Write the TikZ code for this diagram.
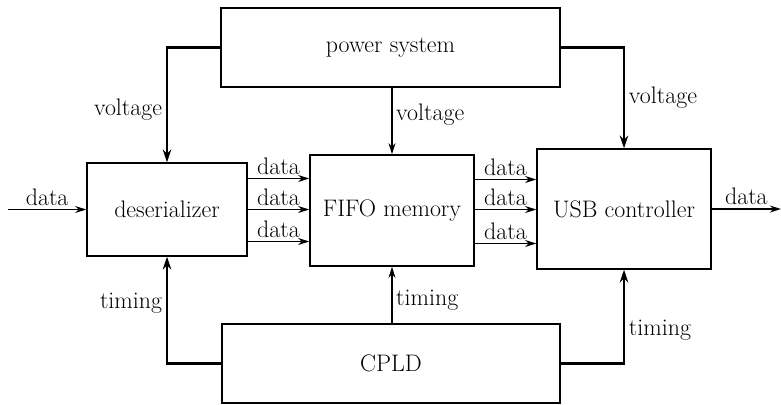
\documentclass[tikz,border=0pt]{standalone}
\usepackage{fontspec}
\usepackage{tikz}
\usetikzlibrary{positioning, arrows.meta, calc}

\begin{document}
\begin{tikzpicture}[
    x=0.025cm, y=-0.025cm,
    block/.style={draw, line width=1pt, inner sep=0pt, font=\fontsize{17}{20}\selectfont},
    lbl/.style={font=\fontsize{17}{20}\selectfont, inner sep=2.5pt},
    sig/.style={line width=1pt, -{Stealth[length=8pt, width=5pt]}},
    bus/.style={line width=2pt, -{Stealth[length=9pt, width=6pt]}}
]

\useasboundingbox (0,0) rectangle (781,404);

% --- 1. Blocks ---
\node[block, minimum width=8.475cm, minimum height=1.975cm] (power) at (390.5,47.5) {power system};
\node[block, minimum width=4cm, minimum height=2.325cm] (deser) at (167,209.5) {deserializer};
\node[block, minimum width=4.1cm, minimum height=2.775cm] (fifo) at (392,210.5) {FIFO memory};
\node[block, minimum width=4.35cm, minimum height=3cm] (usb) at (624,209) {USB controller};
\node[block, minimum width=8.45cm, minimum height=1.975cm] (cpld) at (391,363.5) {CPLD};

% outside ends of the data path
\coordinate (din) at (8,211);
\coordinate (dout) at (781,212);

% --- 2. Voltage supply ---
\draw[bus] (power.west) -| node[lbl, left, pos=0.77] {voltage} (deser.north);
\draw[sig] (power.south -| fifo.north) -- node[lbl, right, pos=0.4] {voltage} (fifo.north);
\draw[bus] (power.east) -| node[lbl, right, pos=0.75] {voltage} (usb.north);

% --- 3. Data path ---
\draw[sig] (din |- deser.west) -- node[lbl, above] {data} (deser.west);
\foreach \dy in {-31,0,32}{
    \draw[sig] ([yshift=\dy*-0.025cm]deser.east) -- node[lbl, above] {data}
        ([yshift=\dy*-0.025cm]deser.east -| fifo.west);
}
\foreach \dy in {-31,-1,33}{
    \draw[sig] ([yshift=\dy*-0.025cm]fifo.east) -- node[lbl, above] {data}
        ([yshift=\dy*-0.025cm]fifo.east -| usb.west);
}
\draw[sig] (usb.east) -- node[lbl, above] {data} (dout |- usb.east);

% --- 4. Timing from CPLD ---
\draw[bus] (cpld.west) -| node[lbl, left, pos=0.78] {timing} (deser.south);
\draw[sig] (cpld.north -| fifo.south) -- node[lbl, right, pos=0.4] {timing} (fifo.south);
\draw[bus] (cpld.east) -| node[lbl, right, pos=0.68] {timing} (usb.south);

\end{tikzpicture}
\end{document}
